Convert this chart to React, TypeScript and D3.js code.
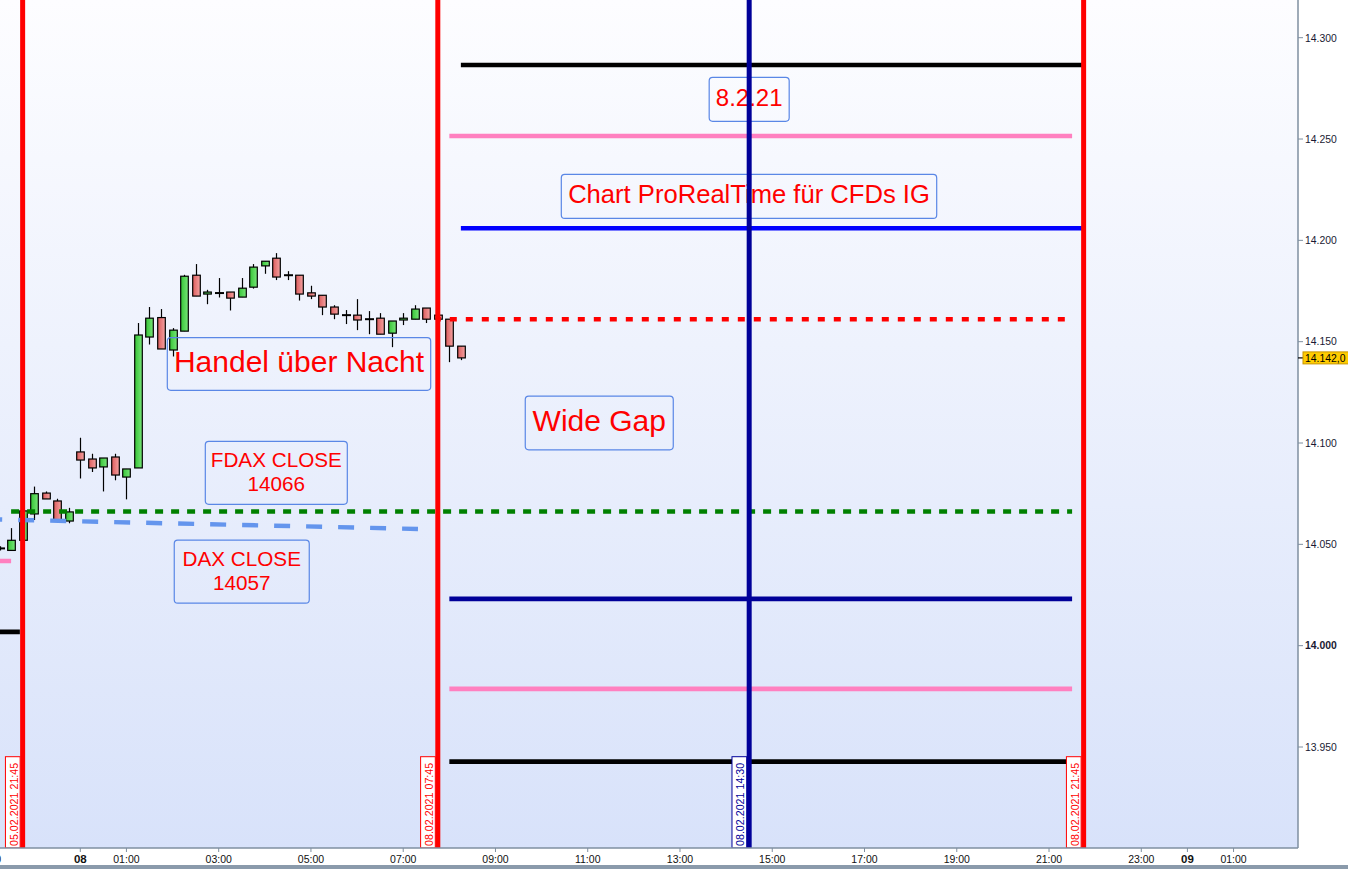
import React, { useEffect } from "react";
import * as d3 from "d3";

const W = 1348;
const H = 869;

// Hours on a trading-time axis: 0 = Mon 08.02.2021 00:00, Friday session compressed (Fri 23:00 = 0)
const candleHours = [
  -1.75, -1.5, -1.25, -1.0, -0.75, -0.5, -0.25,
  0, 0.25, 0.5, 0.75, 1.0, 1.25, 1.5, 1.75, 2.0, 2.25, 2.5, 2.75, 3.0, 3.25, 3.5, 3.75,
  4.0, 4.25, 4.5, 4.75, 5.0, 5.25, 5.5, 5.75, 6.0, 6.25, 6.5, 6.75, 7.0, 7.25, 7.5, 7.75, 8.0, 8.25,
];
const opens = [
  14048, 14047, 14052, 14065, 14075.3, 14071.4, 14061.5,
  14095.6, 14092.1, 14088.2, 14093.1, 14083.2, 14087.7, 14152.3, 14161.9, 14145.9, 14155.2, 14182.8, 14173.5, 14174, 14174.5, 14172, 14176.9,
  14187.4, 14191.2, 14182.8, 14182.8, 14174.1, 14172.9, 14167.1, 14163.1, 14163.1, 14161.1, 14161.6, 14154.2, 14160.7, 14161.1, 14166.6, 14163.1, 14161.1, 14147.8,
];
const highs = [
  14049, 14058, 14067, 14078.5, 14076.1, 14072.5, 14068,
  14102.6, 14094.7, 14092.6, 14094.7, 14087.2, 14159.2, 14167.1, 14166.1, 14156.7, 14183, 14188.3, 14175.6, 14181.4, 14174.5, 14181.4, 14188.3,
  14189.7, 14193.7, 14184.8, 14182.8, 14177.6, 14172.9, 14168, 14165.6, 14171, 14165.1, 14164.1, 14160.2, 14164.1, 14168, 14166.6, 14163.1, 14161.1, 14147.8,
];
const lows = [
  14047, 14047, 14051, 14062, 14072.4, 14062, 14060.4,
  14082.5, 14085.7, 14076.1, 14081.6, 14072.2, 14087.7, 14148.6, 14146.4, 14142.7, 14155.2, 14172.5, 14168.5, 14171.8, 14165.4, 14172, 14176.2,
  14183.5, 14180.4, 14180.4, 14170.3, 14171, 14163.1, 14161.1, 14158.7, 14155.7, 14153.7, 14153.7, 14147.3, 14158.2, 14161.1, 14159.2, 14161.1, 14139.9, 14140.9,
];
const closes = [
  14048, 14052, 14066.5, 14075, 14072.4, 14062.2, 14066,
  14091.6, 14087.7, 14092.6, 14084.2, 14087.2, 14153.3, 14161.6, 14146.4, 14155.7, 14182.3, 14172.5, 14174.5, 14174, 14171.5, 14176.4, 14186.8,
  14189.7, 14181.9, 14182.8, 14173.5, 14172.5, 14167.1, 14163.6, 14163.1, 14160.7, 14161.1, 14153.7, 14160.2, 14161.6, 14166.1, 14161.1, 14161.1, 14147.8, 14142,
];

const yTicks = [13950, 14000, 14050, 14100, 14150, 14200, 14250, 14300];
const xTickHours = [-2, 0, 1, 3, 5, 7, 9, 11, 13, 15, 17, 19, 21, 23, 24, 25];
const xTickLabels = ["21:00", "08", "01:00", "03:00", "05:00", "07:00", "09:00", "11:00", "13:00", "15:00", "17:00", "19:00", "21:00", "23:00", "09", "01:00"];

const levelKeys = ["blackUp", "pinkUp", "blueUp", "redClose", "fdaxClose", "navyDown", "pinkDown", "blackDown", "blackLeft", "pinkLeft"];
const levelValues = [14286.5, 14251.5, 14206, 14161.1, 14066.2, 14023.1, 13978.7, 13942.8, 14006.8, 14041.8];
const levelFrom = [8.25, 8.0, 8.25, 7.75, -1.5, 8.0, 8.0, 8.0, -2.2, -2.2];
const levelTo = [21.75, 21.5, 21.75, 21.37, 21.5, 21.5, 21.5, 21.5, -1.31, -1.5];

const daxTrendHours = [-2.04, 7.32];
const daxTrendValues = [14062.4, 14057.6];

const vlineKeys = ["red", "red", "navy", "red"];
const vlineHours = [-1.25, 7.75, 14.5, 21.75];
const vlineLabels = ["05.02.2021 21:45", "08.02.2021 07:45", "08.02.2021 14:30", "08.02.2021 21:45"];

const noteTexts = [["8.2.21"], ["Chart ProRealTime für CFDs IG"], ["Handel über Nacht"], ["Wide Gap"], ["FDAX CLOSE", "14066"], ["DAX CLOSE", "14057"]];
const noteHours = [14.5, 14.496, 4.741, 11.25, 4.249, 3.5];
const noteValues = [14269.6, 14221.7, 14139, 14109.9, 14085.3, 14036.5];

const lastPrice = 14142;

// ---- styles ----
const FONT = "'Liberation Sans', Arial, sans-serif";
const levelStyle: Record<string, { color: string; dash?: string; offset?: number; width: number }> = {
  blackUp: { color: "#000000", width: 4.6 },
  pinkUp: { color: "#ff80c0", width: 4.6 },
  blueUp: { color: "#0000ff", width: 4.6 },
  redClose: { color: "#ff0000", dash: "7,9", offset: 4, width: 4.6 },
  fdaxClose: { color: "#008000", dash: "8,8", offset: 0, width: 4.4 },
  navyDown: { color: "#000099", width: 4.6 },
  pinkDown: { color: "#ff80c0", width: 4.6 },
  blackDown: { color: "#000000", width: 4.6 },
  blackLeft: { color: "#000000", width: 4.6 },
  pinkLeft: { color: "#ff80c0", width: 4.6 },
};
const vlineColor: Record<string, string> = { red: "#ff0000", navy: "#000099" };
const noteFont = [24, 25.6, 30, 30, 20.7, 20.7];
const noteBoxW = [80, 375.4, 263.4, 148, 142, 135];
const noteBoxH = [44, 44, 52.6, 53.7, 63, 63];

const PLOT_R = 1298;
const PLOT_B = 848;

export default function App() {
  useEffect(() => {
    document.body.style.margin = "0";
  }, []);

  const x = d3.scaleLinear().domain([0, 24]).range([80.3, 80.3 + 24 * 46.13]);
  const y = d3.scaleLinear().domain([13950, 14300]).range([747, 37.7]);

  const candles = candleHours.map((h, i) => ({ h, o: opens[i], hi: highs[i], lo: lows[i], c: closes[i] }));
  const bodyW = 7.6;

  const trendLine = d3
    .line<[number, number]>()
    .x((d) => x(d[0]))
    .y((d) => y(d[1]));
  const trendPts: [number, number][] = daxTrendHours.map((h, i) => [h, daxTrendValues[i]]);

  return (
    <svg width={W} height={H} style={{ display: "block", position: "absolute", left: 0, top: 0 }} fontFamily={FONT}>
      <defs>
        <linearGradient id="bg" x1="0" y1="0" x2="0" y2="1">
          <stop offset="0" stopColor="#fdfdff" />
          <stop offset="1" stopColor="#d8e2fa" />
        </linearGradient>
        <linearGradient id="gUp" x1="0" y1="0" x2="1" y2="0">
          <stop offset="0" stopColor="#36c436" />
          <stop offset="1" stopColor="#78e678" />
        </linearGradient>
        <linearGradient id="gDn" x1="0" y1="0" x2="1" y2="0">
          <stop offset="0" stopColor="#dc5c5c" />
          <stop offset="1" stopColor="#f4a2a2" />
        </linearGradient>
        <clipPath id="plot">
          <rect x={0} y={0} width={PLOT_R} height={PLOT_B} />
        </clipPath>
      </defs>

      <rect x={0} y={0} width={W} height={H} fill="#ffffff" />
      <rect x={0} y={0} width={PLOT_R} height={PLOT_B} fill="url(#bg)" />

      <g clipPath="url(#plot)">
        {/* candles */}
        {candles.map((d, i) => {
          const cx = Math.round(x(d.h)) + 0.5;
          const doji = Math.abs(d.o - d.c) < 0.7;
          const top = y(Math.max(d.o, d.c));
          const bot = y(Math.min(d.o, d.c));
          return (
            <g key={"c" + i}>
              <line x1={cx} x2={cx} y1={y(d.hi)} y2={y(d.lo)} stroke="#000" strokeWidth={1.2} />
              {doji ? (
                <line x1={cx - 4.5} x2={cx + 4.5} y1={top} y2={top} stroke="#000" strokeWidth={2} />
              ) : (
                <rect
                  x={cx - bodyW / 2}
                  y={top}
                  width={bodyW}
                  height={Math.max(1.5, bot - top)}
                  fill={d.c > d.o ? "url(#gUp)" : "url(#gDn)"}
                  stroke="#000"
                  strokeWidth={1.2}
                />
              )}
            </g>
          );
        })}

        {/* horizontal levels */}
        {levelKeys.map((k, i) => {
          const s = levelStyle[k];
          return (
            <line
              key={"l" + i}
              x1={x(levelFrom[i])}
              x2={x(levelTo[i])}
              y1={y(levelValues[i])}
              y2={y(levelValues[i])}
              stroke={s.color}
              strokeWidth={s.width}
              strokeDasharray={s.dash}
              strokeDashoffset={s.offset}
            />
          );
        })}

        {/* DAX close trend (dashed) */}
        <path d={trendLine(trendPts) || ""} stroke="#6495ed" strokeWidth={4.4} strokeDasharray="16,16" fill="none" />

        {/* annotation boxes */}
        {noteTexts.map((lines, i) => {
          const cx = x(noteHours[i]);
          const cy = y(noteValues[i]);
          const fs = noteFont[i];
          const bw = noteBoxW[i];
          const bh = noteBoxH[i];
          return (
            <g key={"n" + i}>
              <rect x={cx - bw / 2} y={cy - bh / 2} width={bw} height={bh} rx={3.5} fill="none" stroke="#5a87e6" strokeWidth={1.2} />
              {lines.length === 1 ? (
                <text x={cx} y={cy + 0.27 * fs} textAnchor="middle" fontSize={fs} fill="#ff0000">
                  {lines[0]}
                </text>
              ) : (
                lines.map((t, j) => (
                  <text key={j} x={cx} y={cy - 5.8 + j * 24.2} textAnchor="middle" fontSize={fs} fill="#ff0000">
                    {t}
                  </text>
                ))
              )}
            </g>
          );
        })}

        {/* vertical lines */}
        {vlineHours.map((h, i) => {
          const col = vlineColor[vlineKeys[i]];
          const vx = x(h);
          return (
            <g key={"v" + i}>
              <line x1={vx} x2={vx} y1={0} y2={PLOT_B} stroke={col} strokeWidth={5} />
              <rect x={vx - 17.2} y={756.7} width={14.7} height={PLOT_B - 756.7} fill="#ffffff" stroke={col} strokeWidth={1} />
              <text transform={`translate(${vx - 5},846) rotate(-90)`} fontSize={10.7} fill={col}>
                {vlineLabels[i]}
              </text>
            </g>
          );
        })}
      </g>

      {/* y axis */}
      <line x1={PLOT_R} x2={PLOT_R} y1={0} y2={PLOT_B} stroke="#7f8fa0" strokeWidth={1.5} />
      {yTicks.map((v) => (
        <g key={"yt" + v}>
          <line x1={PLOT_R} x2={PLOT_R + 5} y1={y(v)} y2={y(v)} stroke="#7f8fa0" strokeWidth={1} />
          <text x={PLOT_R + 7} y={y(v) + 3.8} fontSize={10.4} fill="#1a1a33" fontWeight={v === 14000 ? "bold" : "normal"}>
            {(v / 1000).toFixed(3)}
          </text>
        </g>
      ))}
      {/* last price marker */}
      <line x1={PLOT_R} x2={PLOT_R + 5} y1={y(lastPrice)} y2={y(lastPrice)} stroke="#000" strokeWidth={1.2} />
      <rect x={PLOT_R + 5} y={y(lastPrice) - 6} width={50} height={12} fill="#ffcc00" stroke="#c89600" strokeWidth={1} />
      <text x={PLOT_R + 7} y={y(lastPrice) + 4} fontSize={10.4} fill="#000">
        {(lastPrice / 1000).toFixed(3) + ",0"}
      </text>

      {/* x axis */}
      <line x1={0} x2={PLOT_R} y1={PLOT_B} y2={PLOT_B} stroke="#7f8fa0" strokeWidth={1.5} />
      {xTickHours.map((h, i) => {
        const isDay = xTickLabels[i].length === 2;
        return (
          <g key={"xt" + i}>
            <line x1={x(h)} x2={x(h)} y1={PLOT_B} y2={PLOT_B + 4} stroke="#7f8fa0" strokeWidth={1} />
            <text
              x={x(h)}
              y={862.5}
              textAnchor="middle"
              fontSize={isDay ? 11.5 : 10.5}
              fontWeight={isDay ? "bold" : "normal"}
              fill="#111"
            >
              {xTickLabels[i]}
            </text>
          </g>
        );
      })}
      <rect x={0} y={865} width={W} height={4} fill="#8a9aab" />
    </svg>
  );
}
